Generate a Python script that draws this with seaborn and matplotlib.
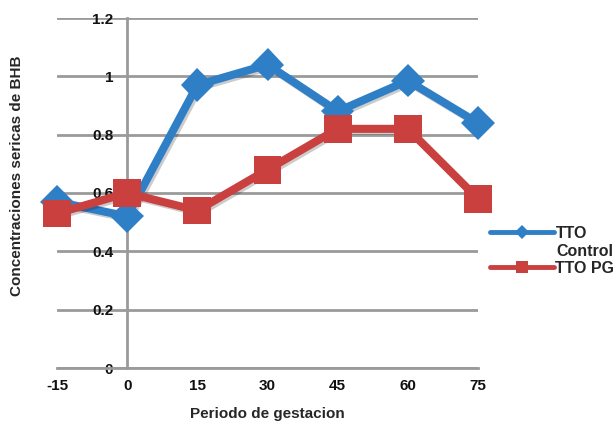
import pandas as pd
import numpy as np
import matplotlib
matplotlib.use("Agg")
import matplotlib.pyplot as plt
import matplotlib.patheffects as pe
import seaborn as sns

# данные
periodo = [-15, 0, 15, 30, 45, 60, 75]
tto_control = [0.57, 0.52, 0.97, 1.04, 0.88, 0.985, 0.84]
tto_pg = [0.53, 0.60, 0.54, 0.68, 0.82, 0.82, 0.58]
y_ticks = [0, 0.2, 0.4, 0.6, 0.8, 1.0, 1.2]
y_labels = ["0", "0.2", "0.4", "0.6", "0.8", "1", "1.2"]

blue = "#2f7fc7"
red = "#c9403f"
grid = "#9a9a9a"

sns.set_style("white")
plt.rcParams["font.family"] = ["Liberation Sans", "DejaVu Sans"]

fig = plt.figure(figsize=(6.15, 4.21), dpi=100)
ax = fig.add_axes([57 / 615, 1 - 368 / 421, (478 - 57) / 615, (368 - 18) / 421])

df = pd.DataFrame({"x": periodo, "ctrl": tto_control, "pg": tto_pg})
shadow = [pe.SimpleLineShadow(offset=(1.5, -1.5), alpha=0.2), pe.Normal()]

sns.lineplot(data=df, x="x", y="ctrl", ax=ax, color=blue, lw=5.8,
             marker="D", markersize=17, markeredgewidth=0, clip_on=False,
             label="TTO", zorder=3, path_effects=shadow)
sns.lineplot(data=df, x="x", y="pg", ax=ax, color=red, lw=5.8,
             marker="s", markersize=20, markeredgewidth=0, clip_on=False,
             label="TTO PG", zorder=4, path_effects=shadow)

ax.set_xlim(-15, 75)
ax.set_ylim(0, 1.2)
ax.set_xticks(periodo)
ax.set_xticklabels([str(p) for p in periodo])
ax.set_yticks(y_ticks)
ax.set_yticklabels(y_labels)

for s in ["top", "right"]:
    ax.spines[s].set_visible(False)
ax.spines["left"].set_position(("data", 0))
ax.spines["left"].set_color(grid)
ax.spines["left"].set_linewidth(2)
ax.spines["bottom"].set_color(grid)
ax.spines["bottom"].set_linewidth(2)

ax.yaxis.grid(True, color=grid, lw=2)
ax.set_axisbelow(True)
ax.tick_params(axis="both", length=0, labelsize=11, colors="#111111")
ax.tick_params(axis="y", pad=10)
ax.tick_params(axis="x", pad=8)
for t in ax.get_xticklabels() + ax.get_yticklabels():
    t.set_fontweight("bold")

ax.set_xlabel("Periodo de gestacion", fontsize=11, fontweight="bold", labelpad=10)
ax.set_ylabel("")
fig.text(17 / 615, 1 - 176 / 421, "Concentraciones sericas de BHB", rotation=90,
         ha="center", va="center", fontsize=11, fontweight="bold")

leg = ax.legend(loc="upper left", bbox_to_anchor=(490 / 615, 1 - 226 / 421),
                bbox_transform=fig.transFigure, frameon=False,
                fontsize=11.5, handlelength=4.0, handletextpad=0.1,
                labelspacing=1.25, markerscale=0.4, borderpad=0, borderaxespad=0)
for t in leg.get_texts():
    t.set_fontweight("bold")
for h in leg.legend_handles:
    h.set_linewidth(3.5)
    h.set_path_effects([])

fig.text(556 / 615, 1 - 251 / 421, "Control", ha="left", va="center",
         fontsize=11.5, fontweight="bold")

fig.savefig("out.png", dpi=100)
